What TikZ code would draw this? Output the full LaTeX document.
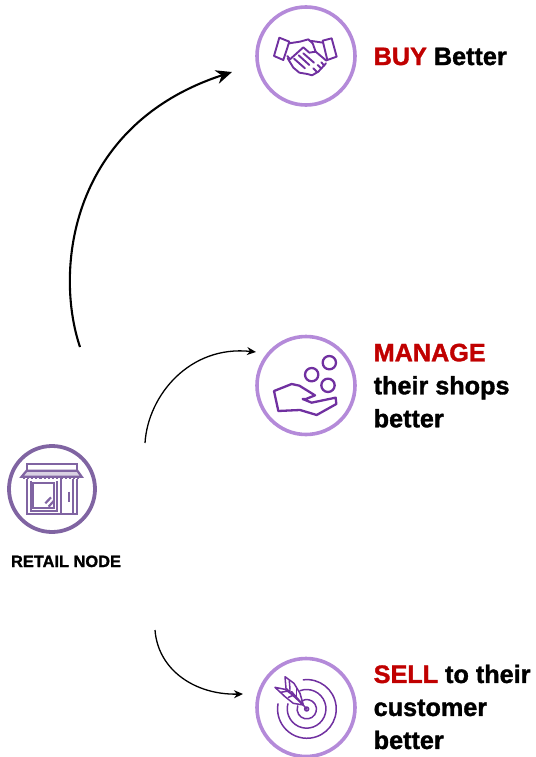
\documentclass[tikz,border=0pt]{standalone}
\usepackage{fontspec}
\setmainfont{Liberation Sans}[BoldFeatures={FakeBold=1.4}]
\usetikzlibrary{arrows.meta}
\definecolor{ringlight}{HTML}{B48AD9}
\definecolor{ringdark}{HTML}{8064A2}
\definecolor{iconpurple}{HTML}{7030A0}
\definecolor{accentred}{HTML}{C00000}
\tikzset{
  ring/.style={circle,draw=ringlight,line width=3.6pt,minimum size=98pt,inner sep=0pt},
  storering/.style={circle,draw=ringdark,line width=3.8pt,minimum size=86pt,inner sep=0pt},
  label/.style={anchor=north west,inner sep=0pt,align=left,font=\fontsize{25.2}{33}\selectfont\bfseries},
  caption/.style={anchor=base,inner sep=0pt,font=\fontsize{16.4}{18}\selectfont\bfseries},
  flow/.style={-{Stealth[length=9pt,width=8pt]},line width=1.3pt},
  bigflow/.style={-{Stealth[length=16pt,width=14pt]},line width=2.1pt},
  icon/.style={draw=iconpurple,line width=1.9pt,line join=round,line cap=round,fill=none},
  storeicon/.style={draw=ringdark,line width=2.2pt,line join=miter,fill=none},
}
\begin{document}
\begin{tikzpicture}[x=1pt,y=-1pt]
\useasboundingbox (0,0) rectangle (535,757);
% rings
\node[ring] (buy) at (306,56) {};
\node[ring] (manage) at (306,385.5) {};
\node[ring] (sell) at (306,707.5) {};
\node[storering] (store) at (52,489) {};
% labels
\node[label] (buytxt) at (373.5,47.5) {\textcolor{accentred}{BUY} Better};
\node[label] (managetxt) at (373.5,343.5) {\textcolor{accentred}{MANAGE}\\their shops\\better};
\node[label] (selltxt) at (373.5,664.5) {\textcolor{accentred}{SELL} to their\\customer\\better};
\node[caption] (storetxt) at (66,567) {RETAIL NODE};
% connectors
\coordinate (a1) at (80,347);
\coordinate (a2) at (232,72);
\coordinate (b1) at (145,443);
\coordinate (b2) at (256,352);
\coordinate (c1) at (155,630);
\coordinate (c2) at (243,694);
\draw[bigflow] (a1) .. controls (54,270) and (70,125) .. (a2);
\draw[flow] (b1) .. controls (148,395) and (190,345) .. (b2);
\draw[flow] (c1) .. controls (158,670) and (195,695) .. (c2);
% handshake icon
\begin{scope}[shift={(250,0)},x=.3333pt,y=-.3333pt]
\draw[icon] (88,113)--(118,125)--(100,180)--(72,168)--cycle;
\draw[icon] (218,122)--(245,115)--(260,170)--(232,180)--cycle;
\draw[icon] (117,130)--(150,125)--(175,118)--(188,130)--(197,155)--(178,158)--(160,142)--(120,178)--(112,168);
\draw[icon] (178,122)--(219,128);
\draw[icon] (197,155)--(229,182);
\draw[icon] (113,175)--(130,203)--(148,218)--(172,222)--(186,226)--(205,215)--(228,190);
\draw[icon] (132,176)--(165,205);
\draw[icon] (146,166)--(178,195);
\draw[icon] (160,160)--(192,188);
\draw[icon] (190,205)--(200,215);
\draw[icon] (203,195)--(213,205);
\draw[icon] (214,187)--(223,197);
\end{scope}
% hand icon
\begin{scope}[shift={(250,330)},x=.3333pt,y=-.3333pt]
\draw[icon,line width=2.3pt] (185,134) circle[radius=20];
\draw[icon,line width=2.3pt] (238,98) circle[radius=20];
\draw[icon,line width=2.3pt] (234,166) circle[radius=20];
\draw[icon,line width=2.3pt] (158,207)--(185,218)--(257,203)--(259,222)--(200,255)--(150,240)--(85,243)--(72,183)--(100,172)--(125,162)--(148,167)--(195,196)--(168,207)--cycle;
\end{scope}
% target icon
\begin{scope}[shift={(250,650)},x=.3333pt,y=-.3333pt]
\draw[icon,line width=1.5pt,fill=iconpurple!35] (170,177) circle[radius=6];
\draw[icon,line width=1.5pt] (155,153) arc[start angle=-122,end angle=200,radius=29];
\draw[icon,line width=1.5pt] (150,122) arc[start angle=-110,end angle=195,radius=58];
\draw[icon,line width=1.5pt] (160,89.5) arc[start angle=-97,end angle=190,radius=88];
\draw[icon,line width=1.5pt] (170,177)--(125,125);
\draw[icon,line width=1.5pt] (75,112)--(105,118)--(125,133)--(160,165)--(130,160)--(105,140)--cycle;
\draw[icon,line width=1.5pt] (105,80)--(132,100)--(150,130)--(160,165)--(130,135)--(108,115)--cycle;
\draw[icon,line width=1.5pt] (92,127)--(120,122);
\draw[icon,line width=1.5pt] (115,142)--(132,135);
\draw[icon,line width=1.5pt] (118,92)--(120,118);
\draw[icon,line width=1.5pt] (140,115)--(140,140);
\end{scope}
% store icon
\begin{scope}[shift={(0,440)},x=.3333pt,y=-.3333pt]
\draw[storeicon] (80,92)--(80,72)--(232,72)--(232,92);
\draw[storeicon,fill=ringdark!30] (80,92)--(232,92)--(245,110)--(65,110)--cycle;
\draw[storeicon,dotted,line width=2.2pt] (68,114)--(242,114);
\draw[storeicon] (80,118)--(80,222)--(232,222)--(232,118);
\draw[storeicon] (92,122)--(92,212)--(170,212)--(170,122);
\draw[storeicon] (100,128)--(100,204)--(162,204)--(162,128)--cycle;
\draw[storeicon] (182,118)--(182,222);
\draw[storeicon] (220,118)--(220,222);
\draw[storeicon,line width=2.6pt] (207,155)--(207,185);
\draw[storeicon,line width=2.2pt] (136,190)--(153,172);
\draw[storeicon,line width=2.2pt] (146,200)--(163,181);
\end{scope}
\end{tikzpicture}
\end{document}
